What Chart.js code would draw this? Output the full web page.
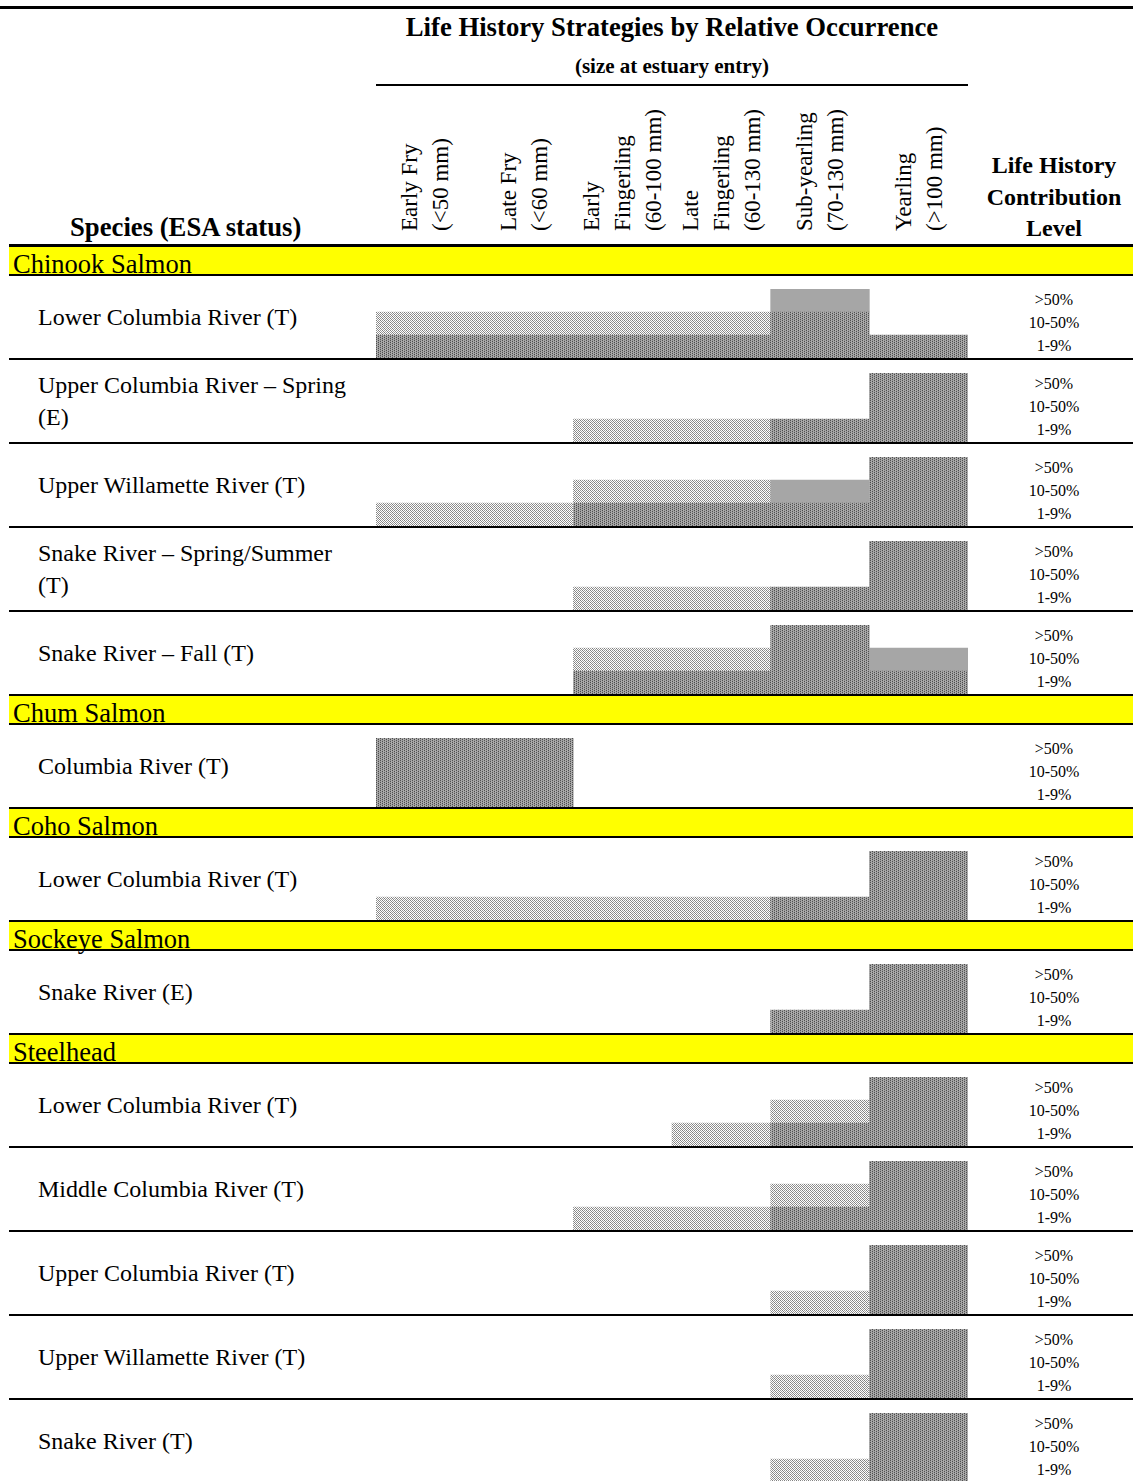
<!DOCTYPE html>
<html><head><meta charset="utf-8">
<script src="https://cdn.jsdelivr.net/npm/chart.js@4.4.1/dist/chart.umd.min.js"></script>
<style>
html,body{margin:0;padding:0;background:#fff}
body{width:1133px;height:1481px;overflow:hidden;position:relative;font-family:"Liberation Serif","Times New Roman",serif;color:#000}
.t{position:absolute;white-space:nowrap}
.r{position:absolute;background:#000}
canvas{position:absolute}
</style></head><body>
<script>
// ---------- data ----------
const strategyLabels = [["Early Fry","(<50 mm)"],["Late Fry","(<60 mm)"],["Early","Fingerling","(60-100 mm)"],["Late","Fingerling","(60-130 mm)"],["Sub-yearling","(70-130 mm)"],["Yearling","(>100 mm)"]];
const levelLabels = ["1-9%","10-50%",">50%"];
const speciesNames = ["Chinook Salmon","Chum Salmon","Coho Salmon","Sockeye Salmon","Steelhead"];

const chinookPops = ["Lower Columbia River (T)","Upper Columbia River – Spring (E)","Upper Willamette River (T)","Snake River – Spring/Summer (T)","Snake River – Fall (T)"];
const chinookLevels = [[2,2,2,2,3,1],[0,0,1,1,1,3],[1,1,2,2,2,3],[0,0,1,1,1,3],[0,0,2,2,3,2]];
const chinookShade = [["DL","DL","DL","DL","DDG","D"],["","","L","L","D","DDD"],["L","L","DL","DL","DG","DDD"],["","","L","L","D","DDD"],["","","DL","DL","DDD","DG"]];

const chumPops = ["Columbia River (T)"];
const chumLevels = [[3,3,0,0,0,0]];
const chumShade = [["DDD","DDD","","","",""]];

const cohoPops = ["Lower Columbia River (T)"];
const cohoLevels = [[1,1,1,1,1,3]];
const cohoShade = [["L","L","L","L","D","DDD"]];

const sockeyePops = ["Snake River (E)"];
const sockeyeLevels = [[0,0,0,0,1,3]];
const sockeyeShade = [["","","","","D","DDD"]];

const steelheadPops = ["Lower Columbia River (T)","Middle Columbia River (T)","Upper Columbia River (T)","Upper Willamette River (T)","Snake River (T)"];
const steelheadLevels = [[0,0,0,1,2,3],[0,0,1,1,2,3],[0,0,0,0,1,3],[0,0,0,0,1,3],[0,0,0,0,1,3]];
const steelheadShade = [["","","","L","DL","DDD"],["","","L","L","DL","DDD"],["","","","","L","DDD"],["","","","","L","DDD"],["","","","","L","DDD"]];

const sections = [
  [speciesNames[0], chinookPops, chinookLevels, chinookShade],
  [speciesNames[1], chumPops, chumLevels, chumShade],
  [speciesNames[2], cohoPops, cohoLevels, cohoShade],
  [speciesNames[3], sockeyePops, sockeyeLevels, sockeyeShade],
  [speciesNames[4], steelheadPops, steelheadLevels, steelheadShade]
];

// ---------- styles ----------
function makePattern(rows){
  const h=rows.length,w=rows[0].length;
  const c=document.createElement('canvas');c.width=w;c.height=h;
  const x=c.getContext('2d');
  for(let j=0;j<h;j++)for(let i=0;i<w;i++){x.fillStyle=rows[j][i];x.fillRect(i,j,1,1);}
  return x.createPattern(c,'repeat');
}
const W='#ffffff';
const fills = {
  L: makePattern([
    [W,'#8a8a8a',W,'#9c9c9c'],
    ['#959595',W,'#7e7e7e',W],
    [W,'#a0a0a0',W,'#868686'],
    ['#7c7c7c',W,'#989898',W]]),
  D: makePattern([
    ['#4c4c4c','#b0b0b0','#9a9a9a','#a8a8a8'],
    ['#9c9c9c','#a2a2a2','#4a4a4a','#b4b4b4'],
    ['#525252','#acacac','#969696','#a4a4a4'],
    ['#989898','#a6a6a6','#505050','#b0b0b0']]),
  G: '#a6a6a6'
};

const X0=376, XW=592, LEFT=9, RIGHT=1133;

function rect(x,y,w,h,color){const d=document.createElement('div');d.className='r';Object.assign(d.style,{left:x+'px',top:y+'px',width:w+'px',height:h+'px'});if(color)d.style.background=color;document.body.appendChild(d);return d;}
function text(str,x,cy,fs,opts={}){
  const d=document.createElement('div');d.className='t';d.textContent=str;
  d.style.fontSize=fs+'px';d.style.lineHeight=fs+'px';d.style.top=(cy-fs/2)+'px';
  if(opts.bold)d.style.fontWeight='bold';
  if(opts.align==='center'){d.style.left=(x-300)+'px';d.style.width='600px';d.style.textAlign='center';}
  else d.style.left=x+'px';
  document.body.appendChild(d);return d;
}

// ---------- header ----------
rect(0,6,RIGHT,3);
text("Life History Strategies by Relative Occurrence",X0+XW/2,27,26.7,{bold:true,align:'center'});
text("(size at estuary entry)",X0+XW/2,66,21,{bold:true,align:'center'});
rect(X0,84,XW,2);
const colW=XW/6;
strategyLabels.forEach((lines,ci)=>{
  const cx=X0+colW*(ci+0.5);
  lines.forEach((ln,li)=>{
    const lx=cx+(li-(lines.length-1)/2)*31;
    const fs=23;
    const d=document.createElement('div');d.className='t';d.textContent=ln;
    Object.assign(d.style,{fontSize:fs+'px',lineHeight:fs+'px',left:(lx-fs/2)+'px',top:'231px',transform:'rotate(-90deg)',transformOrigin:'0 0'});
    document.body.appendChild(d);
  });
});
text("Species (ESA status)",70,227,26.7,{bold:true});
["Life History","Contribution","Level"].forEach((s,i)=>text(s,1054,165+i*31.5,24,{bold:true,align:'center'}));
rect(LEFT,244,RIGHT-LEFT,3);

// ---------- body ----------
let y=247;
sections.forEach(([name,pops,levels,shade])=>{
  rect(LEFT,y,RIGHT-LEFT,27,'#ffff00');
  const st=document.createElement('div');st.className='t';st.textContent=name;
  Object.assign(st.style,{left:'13px',top:(y+27-1-0.8375*26.5)+'px',fontSize:'26.5px',lineHeight:'26.5px'});
  document.body.appendChild(st);
  rect(LEFT,y+27,RIGHT-LEFT,2);
  y+=29;
  pops.forEach((pop,pi)=>{
    const lab=document.createElement('div');
    Object.assign(lab.style,{position:'absolute',left:'38px',top:y+'px',width:'322px',height:'82px',display:'flex',alignItems:'center',fontSize:'24px',lineHeight:'32px'});
    lab.textContent=pop;document.body.appendChild(lab);
    levelLabels.forEach((ll,bi)=>text(ll,1054,y+13+69-(bi+0.5)*23-1,16,{align:'center'}));
    const cv=document.createElement('canvas');cv.width=XW;cv.height=69;
    Object.assign(cv.style,{left:X0+'px',top:(y+13)+'px',width:XW+'px',height:'69px'});
    document.body.appendChild(cv);
    const lv=levels[pi], sh=shade[pi];
    new Chart(cv,{
      type:'bar',
      data:{labels:strategyLabels.map(l=>l.join(' ')),
        datasets:[0,1,2].map(b=>({
          label:levelLabels[b],
          data:lv.map(l=>l>b?1:0),
          backgroundColor:sh.map(s=>fills[s[b]]||'rgba(0,0,0,0)'),
          borderWidth:0,barPercentage:1,categoryPercentage:1
        }))},
      options:{responsive:false,animation:false,devicePixelRatio:1,
        layout:{padding:0},
        plugins:{legend:{display:false},tooltip:{enabled:false}},
        scales:{x:{display:false,stacked:true},y:{display:false,stacked:true,min:0,max:3}}}
    });
    rect(LEFT,y+82,RIGHT-LEFT,2);
    y+=84;
  });
});
</script>
</body></html>
